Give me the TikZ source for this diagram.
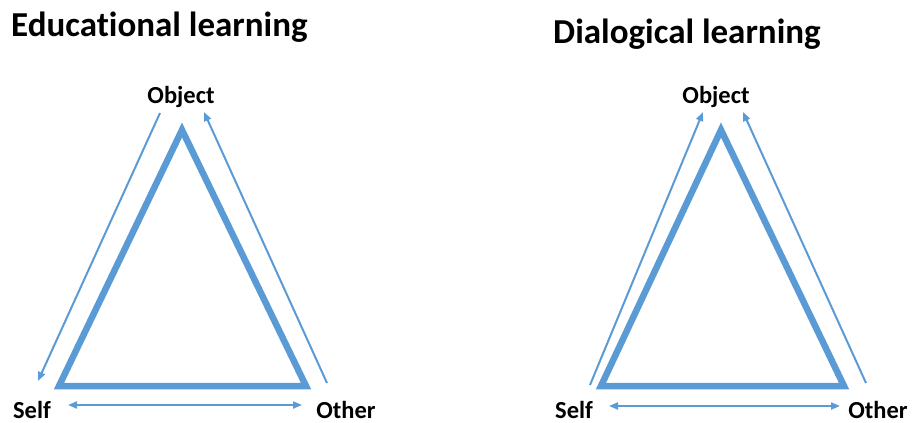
\documentclass[tikz,border=0pt]{standalone}
\usepackage{fontspec}
\setmainfont[Ligatures=NoCommon]{Carlito}
\usetikzlibrary{arrows.meta}
\definecolor{tri}{HTML}{5B9BD5}
\begin{document}
\begin{tikzpicture}[x=1pt,y=-1pt,
  title/.style={font=\bfseries\fontsize{35}{40}\selectfont, anchor=west, inner sep=0pt},
  corner/.style={font=\bfseries\fontsize{24.5}{28}\selectfont, inner sep=0pt},
  tribox/.style={draw=tri, line width=6.5pt, line join=miter},
  flow/.style={draw=tri, line width=2pt, -{Triangle[length=9pt,width=7pt]}},
  flowboth/.style={draw=tri, line width=2pt, {Triangle[length=9pt,width=7pt]}-{Triangle[length=9pt,width=7pt]}}]
\useasboundingbox (0,0) rectangle (913,423);

% Educational learning
\node[title] (t1) at (11,27) {Educational learning};
\node[corner] (o1) at (181,97) {Object};
\node[corner] (s1) at (32,410) {Self};
\node[corner] (r1) at (346,410) {Other};
\coordinate (a1) at (182,130);
\coordinate (b1) at (59,386);
\coordinate (c1) at (306,386);
\draw[tribox] (a1) -- (b1) -- (c1) -- cycle;
\coordinate (l1s) at (160,113);
\coordinate (l1e) at (38,381);
\coordinate (r1s) at (327,383);
\coordinate (r1e) at (204,112);
\draw[flow] (l1s) -- (l1e);
\draw[flow] (r1s) -- (r1e);
\coordinate (x1) at (68,405);
\coordinate (y1) at (302,405);
\draw[flowboth] (x1) -- (y1);

% Dialogical learning
\node[title] (t2) at (553,34) {Dialogical learning};
\node[corner] (o2) at (716,97) {Object};
\node[corner] (s2) at (574,410) {Self};
\node[corner] (r2) at (878,410) {Other};
\coordinate (a2) at (721,130);
\coordinate (b2) at (601,386);
\coordinate (c2) at (844,386);
\draw[tribox] (a2) -- (b2) -- (c2) -- cycle;
\coordinate (l2s) at (590,385);
\coordinate (l2e) at (703,112);
\coordinate (r2s) at (866,383);
\coordinate (r2e) at (743,112);
\draw[flow] (l2s) -- (l2e);
\draw[flow] (r2s) -- (r2e);
\coordinate (x2) at (609,406);
\coordinate (y2) at (840,406);
\draw[flowboth] (x2) -- (y2);
\end{tikzpicture}
\end{document}
